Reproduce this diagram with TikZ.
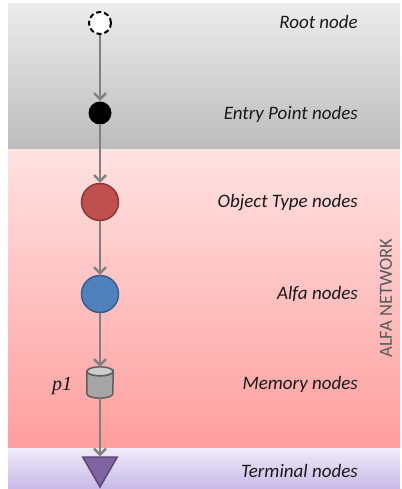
\documentclass[tikz,border=0pt]{standalone}
\usepackage{fontspec}
\setmainfont{Carlito}
\newfontfamily\serifit{Liberation Serif}
\usetikzlibrary{arrows.meta,shapes.geometric}
\definecolor{lbl}{HTML}{1A1A1A}
\definecolor{conncol}{HTML}{808080}
\definecolor{cylline}{HTML}{5F5F5F}
\definecolor{cylbody}{HTML}{A5A5A5}
\definecolor{cyltop}{HTML}{CDCDCD}
\tikzset{
  conn/.style={draw=conncol, line width=2.4pt, -{Straight Barb[length=6pt,width=12pt,line width=2.4pt]}},
  lbltext/.style={anchor=east, font=\fontsize{19}{21}\selectfont\itshape, text=lbl, inner sep=0pt},
  ball/.style={circle, inner sep=0pt, line width=1.5pt},
}
\begin{document}
\begin{tikzpicture}[x=1pt,y=-1pt]
\useasboundingbox (0,0) rectangle (401,489);
% bands
\shade[top color={rgb,255:red,236;green,236;blue,236}, bottom color={rgb,255:red,188;green,188;blue,188}] (8,4) rectangle (400,150);
\shade[top color={rgb,255:red,255;green,226;blue,226}, bottom color={rgb,255:red,255;green,158;blue,158}] (8,150) rectangle (400,448);
\shade[top color={rgb,255:red,240;green,236;blue,250}, bottom color={rgb,255:red,200;green,186;blue,232}] (8,448) rectangle (400,488);
% nodes
\node[ball, minimum size=22pt, draw=black, dashed, dash pattern=on 5pt off 3pt, line width=2pt, fill=white] (root) at (100,23) {};
\node[ball, minimum size=23pt, fill=black] (ep) at (100,113) {};
\node[ball, minimum size=37pt, fill={rgb,255:red,192;green,80;blue,77}, draw={rgb,255:red,140;green,56;blue,54}] (ot) at (100,202) {};
\node[ball, minimum size=37pt, fill={rgb,255:red,79;green,129;blue,189}, draw={rgb,255:red,56;green,93;blue,138}] (alfa) at (100,294) {};
\node[rectangle, minimum width=26pt, minimum height=31pt, inner sep=0pt] (mem) at (100,382.5) {};
\filldraw[fill=cylbody, draw=cylline, line width=1.5pt]
  ([yshift=-4.5pt]mem.north west) -- ([yshift=4.5pt]mem.south west)
  arc[start angle=180, end angle=360, x radius=13pt, y radius=4.5pt]
  -- ([yshift=-4.5pt]mem.north east)
  arc[start angle=0, end angle=180, x radius=13pt, y radius=-4.5pt] -- cycle;
\filldraw[fill=cyltop, draw=cylline, line width=1.5pt] ([yshift=-4.5pt]mem.north) ellipse[x radius=13pt, y radius=4.5pt];
\node[regular polygon, regular polygon sides=3, shape border rotate=180, minimum size=40pt, inner sep=0pt, fill={rgb,255:red,128;green,100;blue,162}, draw={rgb,255:red,92;green,71;blue,118}, line width=1.5pt] (term) at (100,467) {};
% connectors
\draw[conn] (root) -- (ep);
\draw[conn] (ep) -- (ot);
\draw[conn] (ot) -- (alfa);
\draw[conn] (alfa) -- (mem);
\draw[conn] (mem) -- (term);
% labels
\node[lbltext] (l1) at (358,22) {Root node};
\node[lbltext] (l2) at (358,114) {Entry Point nodes};
\node[lbltext] (l3) at (358,203) {Object Type nodes};
\node[lbltext] (l4) at (358,294) {Alfa nodes};
\node[lbltext] (l5) at (358,384) {Memory nodes};
\node[lbltext] (l6) at (358,471) {Terminal nodes};
\node[rotate=90, font=\fontsize{18.5}{20}\selectfont, text={rgb,255:red,89;green,89;blue,89}, inner sep=0pt] (net) at (386,298) {ALFA NETWORK};
\node[font=\fontsize{20}{22}\serifit\itshape, text=lbl, inner sep=0pt] (p1) at (62,386) {p1};
\end{tikzpicture}
\end{document}
